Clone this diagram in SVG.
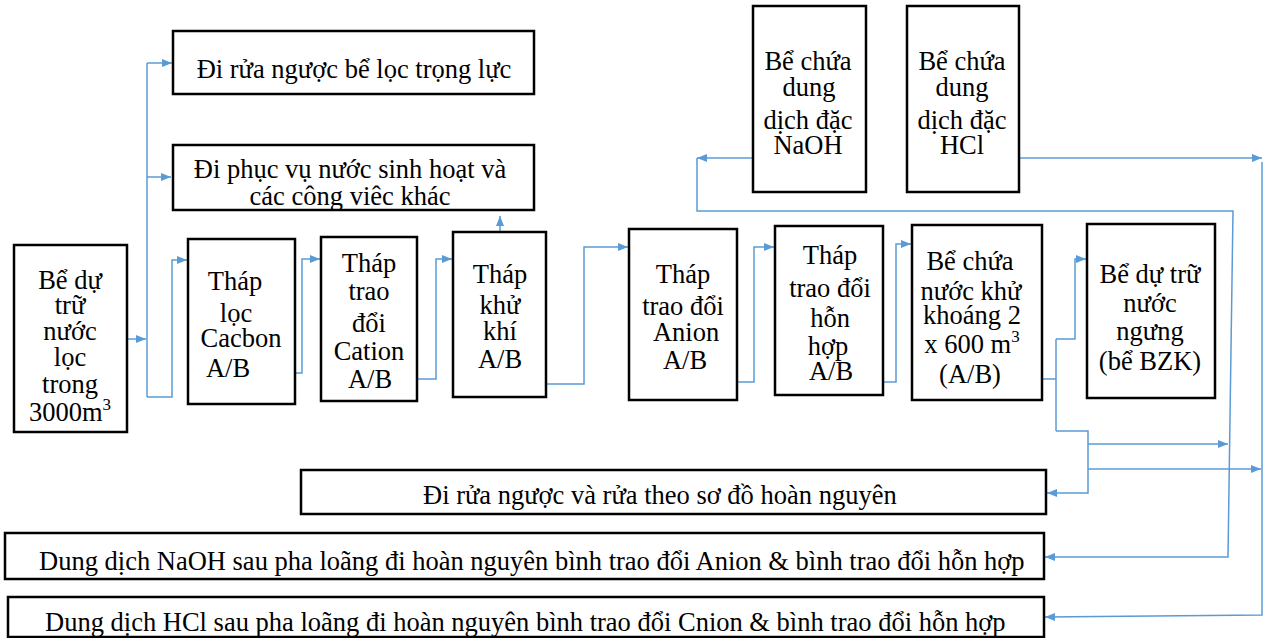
<svg xmlns="http://www.w3.org/2000/svg" width="1264" height="638" viewBox="0 0 1264 638">
<style>
.box{fill:#fff;stroke:#000;stroke-width:2.5}
text{font-family:"Liberation Serif","Times New Roman",serif;font-size:26.5px;fill:#000}
.c{text-anchor:middle}
.ln{fill:none;stroke:#5B9BD5;stroke-width:1.5}
</style>
<defs>
<marker id="ah" markerUnits="userSpaceOnUse" markerWidth="11" markerHeight="9" refX="10" refY="4" orient="auto">
<path d="M0,0 L10,4 L0,8 z" fill="#5B9BD5"/>
</marker>
</defs>
<rect width="1264" height="638" fill="#fff"/>

<g id="connectors">
<path class="ln" d="M127,339 H146" marker-end="url(#ah)"/>
<path class="ln" d="M147,63 V397"/>
<path class="ln" d="M147,63 H172" marker-end="url(#ah)"/>
<path class="ln" d="M147,177 H171" marker-end="url(#ah)"/>
<path class="ln" d="M147,397 H172 V260 H187" marker-end="url(#ah)"/>
<path class="ln" d="M295,373 H302 V259 H320" marker-end="url(#ah)"/>
<path class="ln" d="M417,379 H436 V259 H452" marker-end="url(#ah)"/>
<path class="ln" d="M546,384 H584 V247 H628" marker-end="url(#ah)"/>
<path class="ln" d="M737,382 H754 V247 H774" marker-end="url(#ah)"/>
<path class="ln" d="M883,382 H896 V244 H911" marker-end="url(#ah)"/>
<path class="ln" d="M500,232 V216" marker-end="url(#ah)"/>
<path class="ln" d="M1042,379 H1056"/>
<path class="ln" d="M1056,339 V431"/>
<path class="ln" d="M1056,339 H1075 V259 H1086" marker-end="url(#ah)"/>
<path class="ln" d="M1056,431 H1088 V493 H1047" marker-end="url(#ah)"/>
<path class="ln" d="M1088,444 H1228" marker-end="url(#ah)"/>
<path class="ln" d="M1088,469 H1261" marker-end="url(#ah)"/>
<path class="ln" d="M753,158 H697" marker-end="url(#ah)"/>
<path class="ln" d="M697,158 V211 H1233 L1228,557 H1045" marker-end="url(#ah)"/>
<path class="ln" d="M1019,158 H1262" marker-end="url(#ah)"/>
<path class="ln" d="M1262,162 V615 L1045,617" marker-end="url(#ah)"/>
</g>

<g id="n-backwash-gravity">
<rect class="box" x="173" y="31" width="361" height="63"/>
<text class="c" x="354" y="78">Đi rửa ngược bể lọc trọng lực</text>
</g>

<g id="n-domestic">
<rect class="box" x="173" y="145" width="361" height="65"/>
<text class="c" x="350" y="178">Đi phục vụ nước sinh hoạt và</text>
<text class="c" x="350" y="205">các công viêc khác</text>
</g>

<g id="n-storage">
<rect class="box" x="14" y="245" width="113" height="187"/>
<text class="c" x="70" y="289">Bể dự</text>
<text class="c" x="70" y="314">trữ</text>
<text class="c" x="70" y="340">nước</text>
<text class="c" x="70" y="366">lọc</text>
<text class="c" x="70" y="393">trong</text>
<text class="c" x="70" y="421">3000m<tspan dy="-11" font-size="17">3</tspan></text>
</g>

<g id="n-carbon">
<rect class="box" x="188" y="239" width="107" height="165"/>
<text class="c" x="235" y="290">Tháp</text>
<text class="c" x="236" y="322">lọc</text>
<text class="c" x="241" y="347">Cacbon</text>
<text class="c" x="228" y="377">A/B</text>
</g>

<g id="n-cation">
<rect class="box" x="321" y="237" width="96" height="164"/>
<text class="c" x="369" y="272">Tháp</text>
<text class="c" x="369" y="300">trao</text>
<text class="c" x="369" y="332">đổi</text>
<text class="c" x="369" y="360">Cation</text>
<text class="c" x="370" y="388">A/B</text>
</g>

<g id="n-degas">
<rect class="box" x="453" y="232" width="93" height="165"/>
<text class="c" x="500" y="283">Tháp</text>
<text class="c" x="500" y="314">khử</text>
<text class="c" x="500" y="340">khí</text>
<text class="c" x="500" y="368">A/B</text>
</g>

<g id="n-anion">
<rect class="box" x="629" y="229" width="108" height="171"/>
<text class="c" x="683" y="283">Tháp</text>
<text class="c" x="683" y="315">trao đổi</text>
<text class="c" x="686" y="341">Anion</text>
<text class="c" x="685" y="369">A/B</text>
</g>

<g id="n-mixed">
<rect class="box" x="775" y="226" width="108" height="169"/>
<text class="c" x="830" y="264">Tháp</text>
<text class="c" x="830" y="297">trao đổi</text>
<text class="c" x="830" y="327">hỗn</text>
<text class="c" x="828" y="355">hợp</text>
<text class="c" x="831" y="380">A/B</text>
</g>

<g id="n-demin-tank">
<rect class="box" x="912" y="225" width="130" height="175"/>
<text class="c" x="970" y="270">Bể chứa</text>
<text class="c" x="971" y="300">nước khử</text>
<text class="c" x="972" y="324">khoáng 2</text>
<text class="c" x="972" y="353">x 600 m<tspan dy="-11" font-size="17">3</tspan></text>
<text class="c" x="970" y="383">(A/B)</text>
</g>

<g id="n-bzk">
<rect class="box" x="1087" y="224" width="128" height="174"/>
<text class="c" x="1150" y="283">Bể dự trữ</text>
<text class="c" x="1150" y="312">nước</text>
<text class="c" x="1150" y="340">ngưng</text>
<text class="c" x="1150" y="370">(bể BZK)</text>
</g>

<g id="n-naoh-tank">
<rect class="box" x="753" y="6" width="113" height="186"/>
<text class="c" x="808" y="70">Bể chứa</text>
<text class="c" x="809" y="96">dung</text>
<text class="c" x="808" y="129">dịch đặc</text>
<text class="c" x="808" y="154">NaOH</text>
</g>

<g id="n-hcl-tank">
<rect class="box" x="907" y="6" width="112" height="186"/>
<text class="c" x="962" y="70">Bể chứa</text>
<text class="c" x="962" y="96">dung</text>
<text class="c" x="962" y="129">dịch đặc</text>
<text class="c" x="962" y="154">HCl</text>
</g>

<g id="n-regen-wash">
<rect class="box" x="301" y="470" width="745" height="44"/>
<text x="423" y="504">Đi rửa ngược và rửa theo sơ đồ hoàn nguyên</text>
</g>

<g id="n-naoh-dilute">
<rect class="box" x="5" y="533" width="1039" height="46"/>
<text x="39" y="570">Dung dịch NaOH sau pha loãng đi hoàn nguyên bình trao đổi Anion &amp; bình trao đổi hỗn hợp</text>
</g>

<g id="n-hcl-dilute">
<rect class="box" x="8" y="597" width="1036" height="40"/>
<text x="45" y="631">Dung dịch HCl sau pha loãng đi hoàn nguyên bình trao đổi Cnion &amp; bình trao đổi hỗn hợp</text>
</g>
</svg>
